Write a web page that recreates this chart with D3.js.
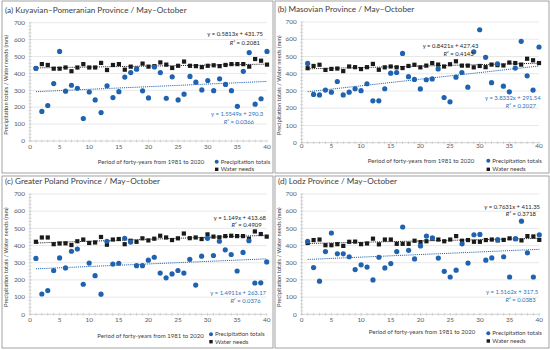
<!DOCTYPE html>
<html>
<head>
<meta charset="utf-8">
<script src="https://cdn.jsdelivr.net/npm/d3@7"></script>
<style>
  body { margin: 0; background: #fff; }
  text { font-family: Lato, "Open Sans", sans-serif; }
</style>
</head>
<body>
<script>
// periods 1..40 (forty-year period 1981-2020)
var periods = d3.range(1, 41);
var xTicks = [0, 5, 10, 15, 20, 25, 30, 35, 40];
var yTicks = [0, 100, 200, 300, 400, 500, 600, 700];

var titles = [
  "(a) Kuyavian\u2013Pomeranian Province / May\u2013October",
  "(b) Masovian Province / May\u2013October",
  "(c) Greater Poland Province / May\u2013October",
  "(d) Lodz Province / May\u2013October"
];

var precipKP = [430,175,210,340,530,295,330,312,133,290,243,168,327,257,292,378,405,425,297,255,
                438,405,253,380,243,277,382,348,302,358,298,368,335,298,205,412,523,218,250,530];
var waterKP  = [430,455,450,428,428,435,413,435,455,435,435,462,420,450,455,422,440,428,458,440,
                443,465,452,432,445,470,445,443,437,445,448,443,450,455,455,455,440,485,475,452];

var precipMa = [460,280,277,305,293,355,277,293,313,302,342,243,243,313,403,407,518,383,367,312,
                365,370,428,262,237,380,407,322,527,655,495,348,458,328,295,433,588,388,305,555];
var waterMa  = [432,445,452,422,428,430,415,442,438,427,438,457,423,437,442,437,433,445,452,437,
                447,462,453,442,455,472,447,447,437,445,438,453,450,448,465,462,453,487,478,462];

var precipGP = [325,118,138,255,328,270,367,380,175,298,225,117,425,292,297,442,420,283,283,315,
                332,240,212,235,255,240,320,170,338,442,342,425,375,348,252,360,428,182,183,305];
var waterGP  = [422,447,447,408,412,413,403,425,435,415,418,450,405,435,438,408,428,422,442,430,
                440,457,447,432,442,470,443,447,438,465,452,448,455,457,455,455,440,482,467,452];

var precipLo = [425,272,193,365,473,352,352,335,260,288,275,200,332,270,295,365,508,372,322,398,
                455,445,327,250,217,257,410,298,463,465,315,328,435,335,217,440,542,358,217,463];
var waterLo  = [415,432,435,402,402,408,398,422,423,408,412,440,407,435,435,410,410,410,428,420,
                425,440,435,425,435,455,428,432,422,422,432,435,430,433,442,438,430,455,453,433];

var precipSeries = [precipKP, precipMa, precipGP, precipLo];
var waterSeries = [waterKP, waterMa, waterGP, waterLo];

// trendlines as given on the chart
var precipSlope = [1.5549, 3.8332, 1.4911, 1.5162];
var precipIntercept = [290.3, 291.54, 263.17, 317.5];
var precipR2 = ["0.0366", "0.2027", "0.0376", "0.0383"];
var waterSlope = [0.5813, 0.8421, 1.149, 0.7631];
var waterIntercept = [431.75, 427.43, 413.68, 411.35];
var waterR2 = ["0.2081", "0.4143", "0.4909", "0.3718"];

var blue = "#1f63b0";
var blueText = "#2e72b8";

// panel layout (local coordinates)
var panels = [
  { ox: 0, oy: 0, box: [2, 1, 271, 172], left: 30, right: 267, top: 22.7, bottom: 141,
    titleX: 5, titleY: 12.5, yTitleX: 8, xTitle: [151, 164], xTickY: 149,
    leg: [216.7, 161.7, 169.3],
    wEq: [263, 36.3], wR2: [260, 45.3], pEq: [263.3, 116.3], pR2: [254, 124.3] },
  { ox: 275, oy: 0, box: [0, 1, 274, 172], left: 26.7, right: 264, top: 22, bottom: 142.7,
    titleX: 2.7, titleY: 11.5, yTitleX: 6, xTitle: [146, 162.7], xTickY: 148,
    leg: [213.3, 160.7, 169.3],
    wEq: [203.3, 47.7], wR2: [198.7, 56], pEq: [265.7, 100], pR2: [261, 108] },
  { ox: 0, oy: 175, box: [2, 1, 271, 172], left: 30, right: 266.7, top: 19, bottom: 139.3,
    titleX: 5, titleY: 8.5, yTitleX: 8, xTitle: [150.5, 162.7], xTickY: 146.5,
    leg: [211, 159.3, 166.7],
    wEq: [266, 44.7], wR2: [261.7, 52], pEq: [266, 119.7], pR2: [260.7, 128] },
  { ox: 275, oy: 175, box: [0, 1, 274, 172], left: 26.7, right: 264.3, top: 19, bottom: 139.3,
    titleX: 3, titleY: 8.5, yTitleX: 6, xTitle: [147, 158.7], xTickY: 146.5,
    leg: [213.3, 158.3, 166],
    wEq: [265, 34.3], wR2: [261, 41.3], pEq: [263.3, 119.3], pR2: [260.7, 127.3] }
];

var svg = d3.select("body").append("svg")
  .attr("width", 550)
  .attr("height", 350);

panels.forEach(function(p, k) {
  var g = svg.append("g").attr("transform", "translate(" + p.ox + "," + p.oy + ")");

  g.append("rect")
    .attr("x", p.box[0]).attr("y", p.box[1])
    .attr("width", p.box[2]).attr("height", p.box[3])
    .attr("fill", "#fff").attr("stroke", "#8c8c8c").attr("stroke-width", 0.8);

  var x = d3.scaleLinear().domain([0, 40]).range([p.left, p.right]);
  var y = d3.scaleLinear().domain([0, 700]).range([p.bottom, p.top]);

  // gridlines
  g.selectAll(".grid").data(yTicks.slice(1)).enter().append("line")
    .attr("x1", p.left).attr("x2", p.right)
    .attr("y1", function(d) { return y(d); }).attr("y2", function(d) { return y(d); })
    .attr("stroke", "#d9d9d9").attr("stroke-width", 0.6);

  // axes lines
  g.append("line").attr("x1", p.left).attr("x2", p.right)
    .attr("y1", y(0)).attr("y2", y(0)).attr("stroke", "#bfbfbf").attr("stroke-width", 0.7);
  g.append("line").attr("x1", x(0)).attr("x2", x(0))
    .attr("y1", y(0)).attr("y2", y(700)).attr("stroke", "#bfbfbf").attr("stroke-width", 0.7);

  // minor cross ticks
  g.selectAll(".xm").data(d3.range(0, 41)).enter().append("line")
    .attr("x1", function(d) { return x(d); }).attr("x2", function(d) { return x(d); })
    .attr("y1", y(0) - 1.5).attr("y2", y(0) + 1.5)
    .attr("stroke", "#bfbfbf").attr("stroke-width", 0.6);
  g.selectAll(".ym").data(d3.range(0, 701, 20)).enter().append("line")
    .attr("x1", x(0) - 1.5).attr("x2", x(0) + 1.5)
    .attr("y1", function(d) { return y(d); }).attr("y2", function(d) { return y(d); })
    .attr("stroke", "#bfbfbf").attr("stroke-width", 0.6);

  // tick labels
  g.selectAll(".yl").data(yTicks).enter().append("text")
    .attr("x", p.left - 5).attr("y", function(d) { return y(d) + 2.2; })
    .attr("text-anchor", "end").attr("font-size", 6.4).attr("fill", "#595959")
    .text(function(d) { return d; });
  g.selectAll(".xl").data(xTicks).enter().append("text")
    .attr("x", function(d) { return x(d); }).attr("y", p.xTickY)
    .attr("text-anchor", "middle").attr("font-size", 6.4).attr("fill", "#595959")
    .text(function(d) { return d; });

  // titles
  g.append("text").attr("x", p.titleX).attr("y", p.titleY)
    .attr("font-size", 8.2).attr("fill", "#404040").text(titles[k]);
  g.append("text")
    .attr("transform", "translate(" + p.yTitleX + "," + ((p.top + p.bottom) / 2 + 3) + ") rotate(-90)")
    .attr("text-anchor", "middle").attr("font-size", 5.8).attr("fill", "#404040")
    .text("Precipitation totals / Water needs (mm)");
  g.append("text").attr("x", p.xTitle[0]).attr("y", p.xTitle[1])
    .attr("text-anchor", "middle").attr("font-size", 6).attr("fill", "#404040")
    .text("Period of forty-years from 1981 to 2020");

  // trendlines
  var wLine = [1, 40].map(function(t) { return [x(t), y(waterSlope[k] * t + waterIntercept[k])]; });
  var pLine = [1, 40].map(function(t) { return [x(t), y(precipSlope[k] * t + precipIntercept[k])]; });
  g.append("path").attr("d", d3.line()(wLine))
    .attr("stroke", "#262626").attr("stroke-width", 1).attr("stroke-dasharray", "1.1,1").attr("fill", "none");
  g.append("path").attr("d", d3.line()(pLine))
    .attr("stroke", blue).attr("stroke-width", 1).attr("stroke-dasharray", "1.1,1").attr("fill", "none");

  // water needs squares
  g.selectAll(".sq").data(waterSeries[k]).enter().append("rect")
    .attr("x", function(d, i) { return x(periods[i]) - 2.1; })
    .attr("y", function(d) { return y(d) - 2.1; })
    .attr("width", 4.2).attr("height", 4.2).attr("fill", "#1a1a1a");

  // precipitation circles
  g.selectAll(".pc").data(precipSeries[k]).enter().append("circle")
    .attr("cx", function(d, i) { return x(periods[i]); })
    .attr("cy", function(d) { return y(d); })
    .attr("r", 2.6).attr("fill", blue);

  // equation labels
  function eq(pos, slope, icpt, col) {
    g.append("text").attr("x", pos[0]).attr("y", pos[1]).attr("text-anchor", "end")
      .attr("font-size", 5.9).attr("fill", col)
      .text("y = " + slope + "x + " + icpt);
  }
  function r2(pos, val, col) {
    var t = g.append("text").attr("x", pos[0]).attr("y", pos[1]).attr("text-anchor", "end")
      .attr("font-size", 5.9).attr("fill", col);
    t.append("tspan").attr("font-style", "italic").text("R");
    t.append("tspan").text("\u00b2 = " + val);
  }
  eq(p.wEq, waterSlope[k], waterIntercept[k], "#262626");
  r2(p.wR2, waterR2[k], "#262626");
  eq(p.pEq, precipSlope[k], precipIntercept[k], blueText);
  r2(p.pR2, precipR2[k], blueText);

  // legend
  g.append("circle").attr("cx", p.leg[0]).attr("cy", p.leg[1]).attr("r", 2).attr("fill", blue);
  g.append("rect").attr("x", p.leg[0] - 1.7).attr("y", p.leg[2] - 1.7)
    .attr("width", 3.4).attr("height", 3.4).attr("fill", "#1a1a1a");
  g.append("text").attr("x", p.leg[0] + 4).attr("y", p.leg[1] + 2)
    .attr("font-size", 6).attr("fill", "#404040").text("Precipitation totals");
  g.append("text").attr("x", p.leg[0] + 4).attr("y", p.leg[2] + 2)
    .attr("font-size", 6).attr("fill", "#404040").text("Water needs");
});
</script>
</body>
</html>
